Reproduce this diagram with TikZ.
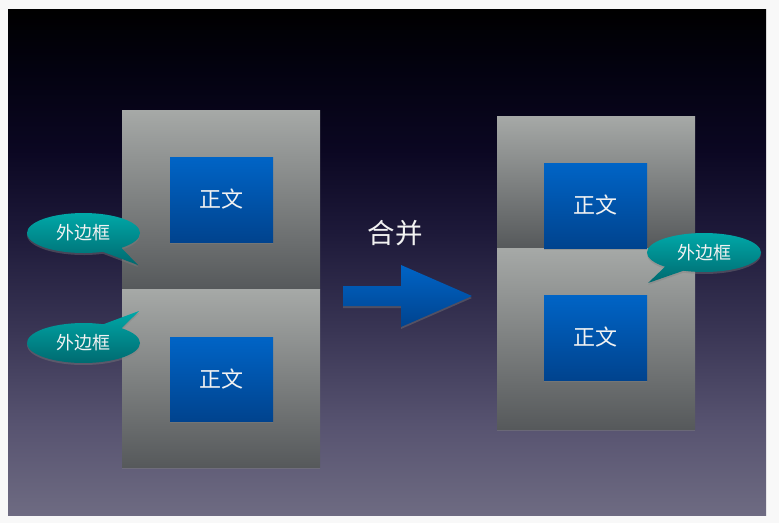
\documentclass[tikz,border=0pt]{standalone}
\usepackage{fontspec}
\newfontfamily\cjk{Noto Sans CJK SC}
\usetikzlibrary{shapes.callouts,shadows}
\definecolor{pagewhite}{HTML}{F8F8F8}
\definecolor{bg1}{HTML}{030210}
\definecolor{bg2}{HTML}{0B0722}
\definecolor{bg3}{HTML}{1D1939}
\definecolor{bg4}{HTML}{3A3655}
\definecolor{bg5}{HTML}{575370}
\definecolor{bg6}{HTML}{6E6B82}
\definecolor{gtop}{HTML}{A6A9A7}
\definecolor{gbot}{HTML}{56595B}
\definecolor{btop}{HTML}{0064C6}
\definecolor{bbot}{HTML}{00438E}
\definecolor{ttop}{HTML}{00A8A8}
\definecolor{tbot}{HTML}{00696F}
\definecolor{txt}{HTML}{F2F2F2}
\pgfdeclareverticalshading{bgshade}{100bp}{color(0bp)=(bg6); color(25bp)=(bg6); color(34bp)=(bg5); color(43bp)=(bg4); color(53bp)=(bg3); color(61bp)=(bg2); color(69bp)=(bg1); color(75bp)=(black); color(100bp)=(black)}
\begin{document}
\begin{tikzpicture}[x=1pt,y=-1pt,
  panel/.style={rectangle, draw=none, minimum width=198pt, inner sep=0pt,
    top color=gtop, bottom color=gbot,
    drop shadow={shadow xshift=0pt, shadow yshift=-2pt, opacity=0.45}},
  bluebox/.style={rectangle, draw=none, minimum width=103pt, minimum height=85pt, inner sep=0pt,
    top color=btop, bottom color=bbot, text=txt, font=\cjk\fontsize{22}{26}\selectfont,
    drop shadow={shadow xshift=0pt, shadow yshift=-2pt, opacity=0.45}},
  bubble/.style={ellipse callout, draw=none, minimum width=113pt, minimum height=40pt, inner sep=0pt,
    top color=ttop, bottom color=tbot, text=txt, font=\cjk\fontsize{18}{22}\selectfont,
    callout pointer arc=22,
    drop shadow={shadow xshift=0pt, shadow yshift=-2pt, opacity=0.4}}
]
\useasboundingbox (0,0) rectangle (779,523);
\fill[pagewhite] (0,0) rectangle (779,523);
\path[shading=bgshade] (8,9) rectangle (766,515);

% left panels
\node[panel, minimum height=179pt] (L1) at (221,199.5) {};
\node[panel, minimum height=178pt] (L2) at (221,378) {};
% right panels
\node[panel, minimum height=132pt] (R1) at (596,182) {};
\node[panel, minimum height=181pt] (R2) at (596,338.5) {};

% blue content boxes
\node[bluebox] (LB1) at (221.5,199.5) {\raisebox{-2pt}{正文}};
\node[bluebox, minimum height=84pt] (LB2) at (221.5,379) {\raisebox{-2pt}{正文}};
\node[bluebox] (RB1) at (595.5,205.5) {\raisebox{-2pt}{正文}};
\node[bluebox] (RB2) at (595.5,337.5) {\raisebox{-2pt}{正文}};

% merge arrow
\path[top color=btop, bottom color=bbot,
  drop shadow={shadow xshift=0pt, shadow yshift=-2pt, opacity=0.4}]
  (343,286) -- (401,286) -- (401,265) -- (472,296) -- (401,327) -- (401,306) -- (343,306) -- cycle;
\node[text=txt, font=\cjk\fontsize{27.5}{32}\selectfont] (merge) at (395,233) {合并};

% callouts
\coordinate (p1) at (138,265);
\coordinate (p2) at (139,311);
\coordinate (p3) at (648,283);
\node[bubble, callout absolute pointer={(p1)}] (C1) at (83.5,233) {\raisebox{-1pt}{外边框}};
\node[bubble, callout absolute pointer={(p2)}] (C2) at (83.5,343) {\raisebox{-1pt}{外边框}};
\node[bubble, minimum width=114pt, minimum height=39pt, callout absolute pointer={(p3)}] (C3) at (704,252.5) {\raisebox{-1pt}{外边框}};
\end{tikzpicture}
\end{document}
